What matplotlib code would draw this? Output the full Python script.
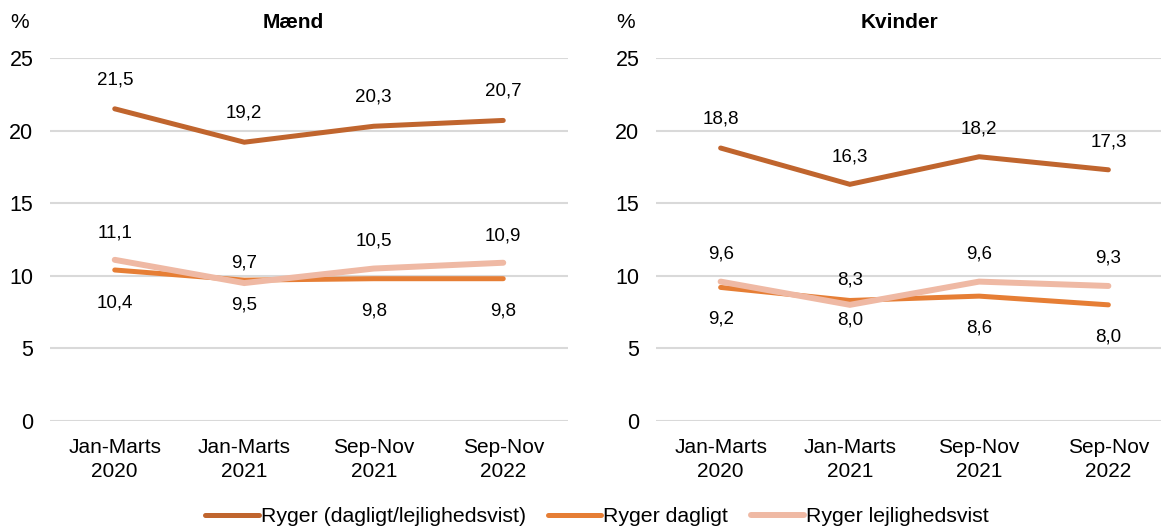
import matplotlib
matplotlib.use("Agg")
import matplotlib.pyplot as plt

plt.rcParams['font.family'] = ['Liberation Sans', 'DejaVu Sans']

categories = ["Jan-Marts\n2020", "Jan-Marts\n2021", "Sep-Nov\n2021", "Sep-Nov\n2022"]
series_names = ["Ryger (dagligt/lejlighedsvist)", "Ryger dagligt", "Ryger lejlighedsvist"]

maend_total = [21.5, 19.2, 20.3, 20.7]
maend_daily = [10.4, 9.7, 9.8, 9.8]
maend_occas = [11.1, 9.5, 10.5, 10.9]

kvinder_total = [18.8, 16.3, 18.2, 17.3]
kvinder_daily = [9.2, 8.3, 8.6, 8.0]
kvinder_occas = [9.6, 8.0, 9.6, 9.3]

yticks = [0, 5, 10, 15, 20, 25]

colors = ["#C0652E", "#E67E35", "#EFB9A4"]
widths = [3.6, 3.6, 4.3]

# label offsets in points (style)
off_m = [[21, 21, 21, 21], [-23.5, 12, -23.5, -23.5], [19.5, -16, 19.5, 19.5]]
off_k = [[21, 20, 20, 20], [-23, 15, -23, -23], [20, -11, 20, 20]]

W, H = 1161, 529
fig = plt.figure(figsize=(W / 100, H / 100), dpi=100)

axL = fig.add_axes([50 / W, 108 / H, 518 / W, 363 / H])
axR = fig.add_axes([656 / W, 108 / H, 517 / W, 363 / H])

def fmt(v):
    return f"{v:.1f}".replace(".", ",")

handles = []
for ax, data, offs in [(axL, [maend_total, maend_daily, maend_occas], off_m),
                       (axR, [kvinder_total, kvinder_daily, kvinder_occas], off_k)]:
    x = list(range(len(categories)))
    hs = []
    for vals, c, lw, off, name in zip(data, colors, widths, offs, series_names):
        h, = ax.plot(x, vals, color=c, lw=lw, solid_capstyle='round',
                     solid_joinstyle='miter', label=name, zorder=3)
        hs.append(h)
        for xi, v, o in zip(x, vals, off):
            ax.annotate(fmt(v), (xi, v), xytext=(0, o), textcoords='offset points',
                        ha='center', va='center', fontsize=13.5, color='#000000')
    handles = hs
    ax.set_xlim(-0.5, 3.5)
    ax.set_ylim(0, 25)
    ax.set_yticks(yticks)
    ax.set_yticklabels([str(t) for t in yticks])
    ax.set_xticks(x)
    ax.set_xticklabels(categories, linespacing=1.35)
    ax.grid(axis='y', color='#D9D9D9', lw=1.5, zorder=0)
    ax.set_axisbelow(True)
    for s in ax.spines.values():
        s.set_visible(False)
    ax.tick_params(axis='y', length=0, pad=12, labelsize=15.5)
    ax.tick_params(axis='x', length=0, pad=12, labelsize=15)

fig.text(293 / W, 1 - 23 / H, "Mænd", ha='center', va='center', fontsize=15, fontweight='bold')
fig.text(899 / W, 1 - 23 / H, "Kvinder", ha='center', va='center', fontsize=15, fontweight='bold')
fig.text(20 / W, 1 - 22 / H, "%", ha='center', va='center', fontsize=15)
fig.text(626 / W, 1 - 22 / H, "%", ha='center', va='center', fontsize=15)

fig.legend(handles, series_names, loc='center', bbox_to_anchor=(597 / W, 1 - 517 / H),
           ncol=3, frameon=False, fontsize=15.3, handlelength=2.5, handletextpad=0.1,
           columnspacing=1.05, borderaxespad=0, borderpad=0)

fig.savefig("out.png", dpi=100)
